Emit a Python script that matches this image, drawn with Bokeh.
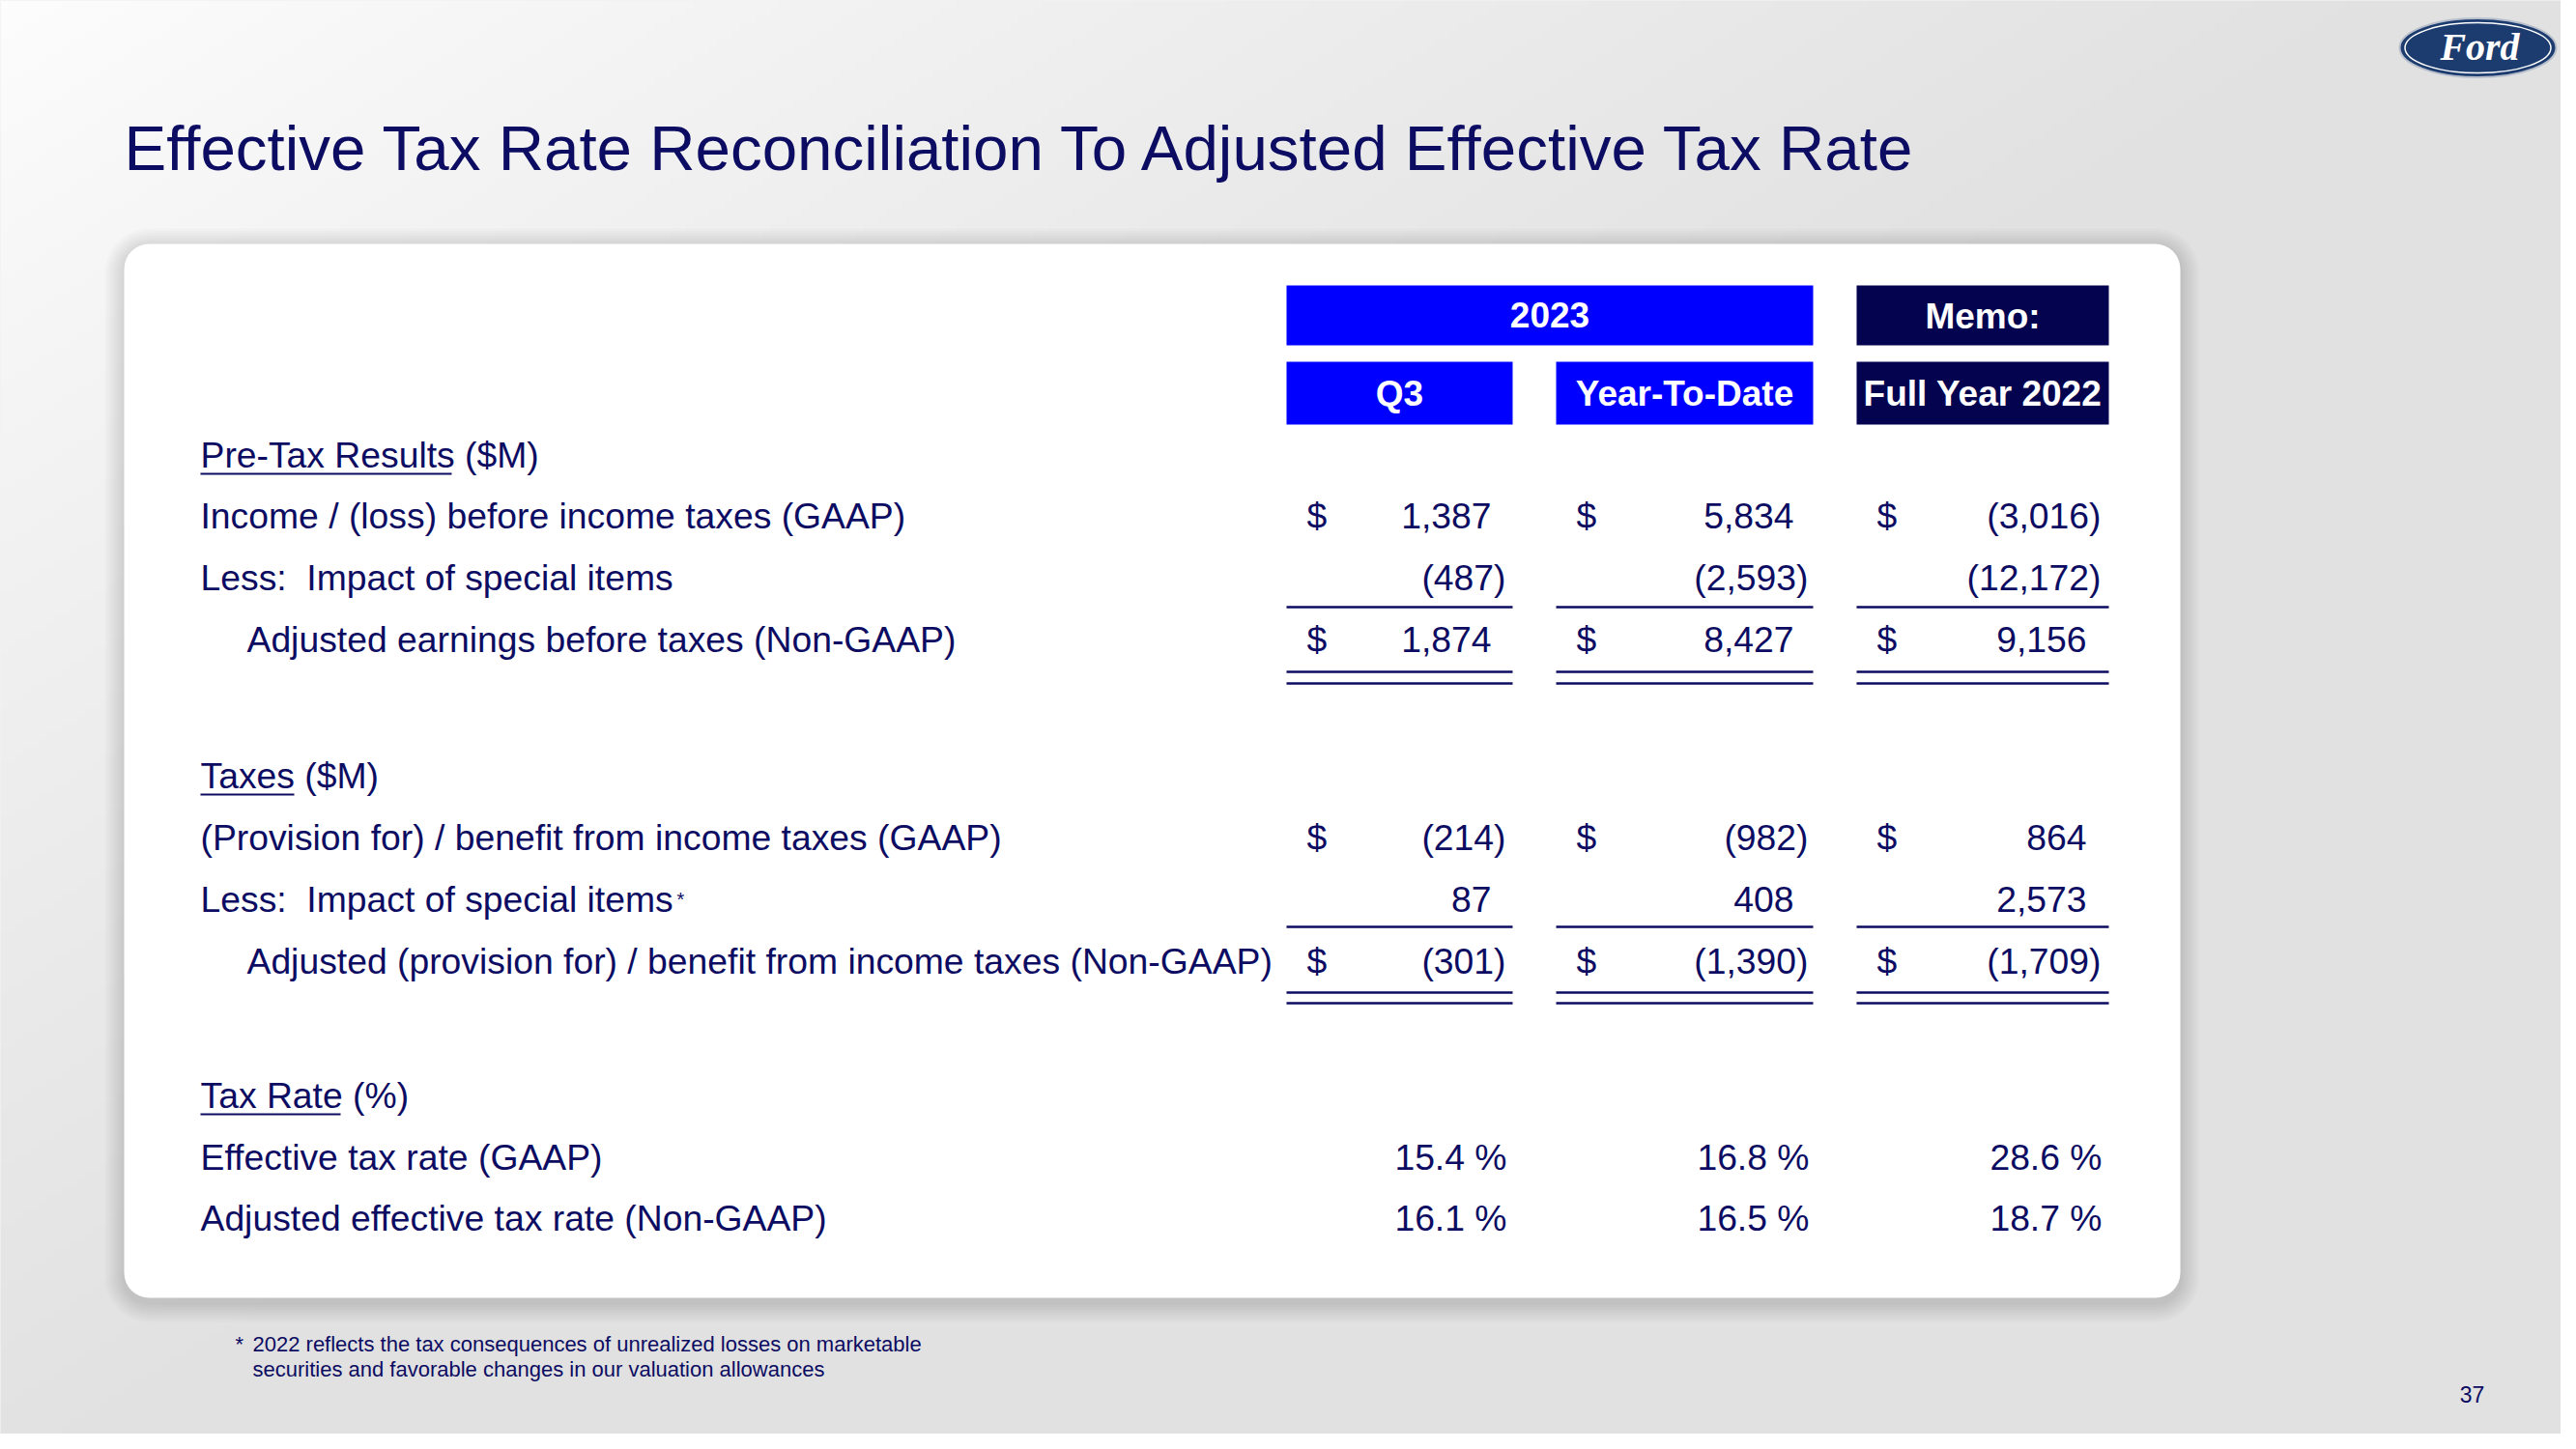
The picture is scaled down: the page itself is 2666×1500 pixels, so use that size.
import numpy as np
from bokeh.plotting import figure
from bokeh.models import Range1d, BoxAnnotation
from bokeh.core.properties import value
from bokeh.embed import file_html
from bokeh.resources import INLINE

# ---------------- data ----------------
title = "Effective Tax Rate Reconciliation To Adjusted Effective Tax Rate"
group_headers = ["2023", "Memo:"]
col_headers = ["Q3", "Year-To-Date", "Full Year 2022"]

section_titles = ["Pre-Tax Results", "Taxes", "Tax Rate"]
section_units = ["($M)", "($M)", "(%)"]

pretax_labels = ["Income / (loss) before income taxes (GAAP)",
                 "Less:  Impact of special items",
                 "Adjusted earnings before taxes (Non-GAAP)"]
pretax_q3 = [1387, -487, 1874]
pretax_ytd = [5834, -2593, 8427]
pretax_fy22 = [-3016, -12172, 9156]

tax_labels = ["(Provision for) / benefit from income taxes (GAAP)",
              "Less:  Impact of special items",
              "Adjusted (provision for) / benefit from income taxes (Non-GAAP)"]
tax_q3 = [-214, 87, -301]
tax_ytd = [-982, 408, -1390]
tax_fy22 = [864, 2573, -1709]

rate_labels = ["Effective tax rate (GAAP)",
               "Adjusted effective tax rate (Non-GAAP)"]
rate_q3 = [15.4, 16.1]
rate_ytd = [16.8, 16.5]
rate_fy22 = [28.6, 18.7]

footnote = ["2022 reflects the tax consequences of unrealized losses on marketable",
            "securities and favorable changes in our valuation allowances"]
page_number = "37"

# ---------------- layout / style ----------------
W, H = 2666, 1500
FW, FH = 2650, 1484


def Y(v):
    return H - v


K = 0.35  # text baseline compensation (fraction of font size)


def TY(base, size):
    return Y(base - K * size)


NAVY = "#0C0C62"
BLUE = "#0000FF"
DARK = "#03034F"
FONT = value("Liberation Sans")
BS = 37.3
BODY = f"{BS}px"

p = figure(width=FW, height=FH, x_range=Range1d(0, FW), y_range=Range1d(H - FH, H),
           output_backend="svg", toolbar_location=None, min_border=0,
           x_axis_type=None, y_axis_type=None)
p.grid.visible = False
p.outline_line_color = None
p.background_fill_color = "#e6e6e6"
p.border_fill_color = "#e6e6e6"

# background gradient
nx, ny = 334, 188
fx = np.linspace(0, 1, nx)
fy_top = 1 - np.linspace(0, 1, ny)
FX, FT = np.meshgrid(fx, fy_top)
t = np.clip((FX * 1.0 + FT * 0.9) / 0.95, 0, 1)
gray = (253 - 28 * t ** 0.9).astype(np.uint8)
img = np.empty((ny, nx), dtype=np.uint32)
view = img.view(dtype=np.uint8).reshape((ny, nx, 4))
view[:, :, 0] = gray
view[:, :, 1] = gray
view[:, :, 2] = gray
view[:, :, 3] = 255
p.image_rgba(image=[img], x=0, y=0, dw=W, dh=H, level="image")

# card shadow + card
card_l, card_r, card_t, card_b = 128, 2256, 252, 1343
for i in range(1, 9):
    d = i * 2.5
    p.add_layout(BoxAnnotation(left=card_l - d, right=card_r + d,
                               top=Y(card_t - d + 4), bottom=Y(card_b + d + 5),
                               fill_color="black", fill_alpha=0.016, line_alpha=0,
                               border_radius=int(26 + d), level="underlay"))
p.add_layout(BoxAnnotation(left=card_l, right=card_r, top=Y(card_t), bottom=Y(card_b),
                           fill_color="white", fill_alpha=1, line_alpha=0,
                           border_radius=26, level="underlay"))

# title
p.text(x=[128], y=[TY(176, 65.5)], text=[title], text_font=FONT, text_font_size="65.5px",
       text_color=NAVY, text_align="left", text_baseline="alphabetic")

# header boxes
col_l = [1331, 1610, 1921]
col_r = [1565, 1876, 2182]
grp_l = [1331, 1921]
grp_r = [1876, 2182]
p.quad(left=grp_l, right=grp_r, top=[Y(295)] * 2, bottom=[Y(357)] * 2,
       fill_color=[BLUE, DARK], line_color=None)
p.quad(left=col_l, right=col_r, top=[Y(374)] * 3, bottom=[Y(439)] * 3,
       fill_color=[BLUE, BLUE, DARK], line_color=None)
p.text(x=[(a + b) / 2 for a, b in zip(grp_l, grp_r)], y=[TY(338, 37), TY(340, 37)],
       text=group_headers, text_font=FONT, text_font_style="bold", text_font_size="37px",
       text_color="white", text_align="center", text_baseline="alphabetic")
p.text(x=[(a + b) / 2 for a, b in zip(col_l, col_r)], y=[TY(420, 37)] * 3, text=col_headers,
       text_font=FONT, text_font_style="bold", text_font_size="37px", text_color="white",
       text_align="center", text_baseline="alphabetic")

# numeric column anchors
num_right = [1543, 1856, 2159]
dollar_x = [1352, 1631, 1942]
PAREN = 15


def fmt(v):
    s = f"{abs(v):,}"
    return f"({s})" if v < 0 else s


def draw_section(title_txt, unit, underline_end, title_base, labels, cols, bases,
                 dollar_rows, indent_rows, star_row=None, percent=False):
    p.text(x=[207], y=[TY(title_base, BS)], text=[f"{title_txt} {unit}"], text_font=FONT,
           text_font_size=BODY, text_color=NAVY, text_align="left", text_baseline="alphabetic")
    p.segment(x0=[207], y0=[Y(title_base + 6)], x1=[underline_end], y1=[Y(title_base + 6)],
              line_color=NAVY, line_width=2)
    lx = [255 if i in indent_rows else 207 for i in range(len(labels))]
    p.text(x=lx, y=[TY(b, BS) for b in bases], text=[l.replace("  ", "\u00a0 ") for l in labels],
           text_font=FONT, text_font_size=BODY, text_color=NAVY,
           text_align="left", text_baseline="alphabetic")
    if star_row is not None:
        p.text(x=[700], y=[TY(bases[star_row] - 7, 20)], text=["*"], text_font=FONT,
               text_font_size="20px", text_color=NAVY, text_align="left",
               text_baseline="alphabetic")
    for c, vals in enumerate(cols):
        if percent:
            xs = [num_right[c] + 16] * len(vals)
            txt = [f"{v:.1f} %" for v in vals]
        else:
            xs = [num_right[c] + (PAREN if v < 0 else 0) for v in vals]
            txt = [fmt(v) for v in vals]
        p.text(x=xs, y=[TY(b, BS) for b in bases], text=txt, text_font=FONT,
               text_font_size=BODY, text_color=NAVY, text_align="right",
               text_baseline="alphabetic")
        if dollar_rows:
            p.text(x=[dollar_x[c]] * len(dollar_rows), y=[TY(bases[r], BS) for r in dollar_rows],
                   text=["$"] * len(dollar_rows), text_font=FONT, text_font_size=BODY,
                   text_color=NAVY, text_align="left", text_baseline="alphabetic")


def rules(single_y, double_y):
    for ys in [single_y] + list(double_y):
        p.segment(x0=col_l, y0=[Y(ys)] * 3, x1=col_r, y1=[Y(ys)] * 3,
                  line_color=NAVY, line_width=2.5)


draw_section(section_titles[0], section_units[0], 467, 484, pretax_labels,
             [pretax_q3, pretax_ytd, pretax_fy22], [547, 611, 675], [0, 2], [2])
rules(628, (695, 707))

draw_section(section_titles[1], section_units[1], 304, 816, tax_labels,
             [tax_q3, tax_ytd, tax_fy22], [880, 944, 1008], [0, 2], [2], star_row=1)
rules(959, (1027, 1038))

draw_section(section_titles[2], section_units[2], 352, 1147, rate_labels,
             [rate_q3, rate_ytd, rate_fy22], [1211, 1274], [], [], percent=True)

# footnote
p.text(x=[243], y=[TY(1399, 22)], text=["*"], text_font=FONT, text_font_size="22px",
       text_color=NAVY, text_align="left", text_baseline="alphabetic")
p.text(x=[261, 261], y=[TY(1399, 22), TY(1425, 22)], text=footnote, text_font=FONT,
       text_font_size="22px", text_color=NAVY, text_align="left", text_baseline="alphabetic")

# page number
p.text(x=[2558], y=[TY(1451, 23)], text=[page_number], text_font=FONT, text_font_size="23px",
       text_color=NAVY, text_align="center", text_baseline="alphabetic")

# Ford logo
p.ellipse(x=[2564], y=[Y(49)], width=[162], height=[61], fill_color="#1C3B6E",
          line_color="#b8bfcc", line_width=2)
p.ellipse(x=[2564], y=[Y(49)], width=[151], height=[52], fill_color=None,
          line_color="white", line_width=1.5)
p.text(x=[2566], y=[TY(62, 40)], text=["Ford"], text_font=value("Liberation Serif"),
       text_font_style="bold italic", text_font_size="40px", text_color="white",
       text_align="center", text_baseline="alphabetic")

open("out.html", "w").write(file_html(p, INLINE))
